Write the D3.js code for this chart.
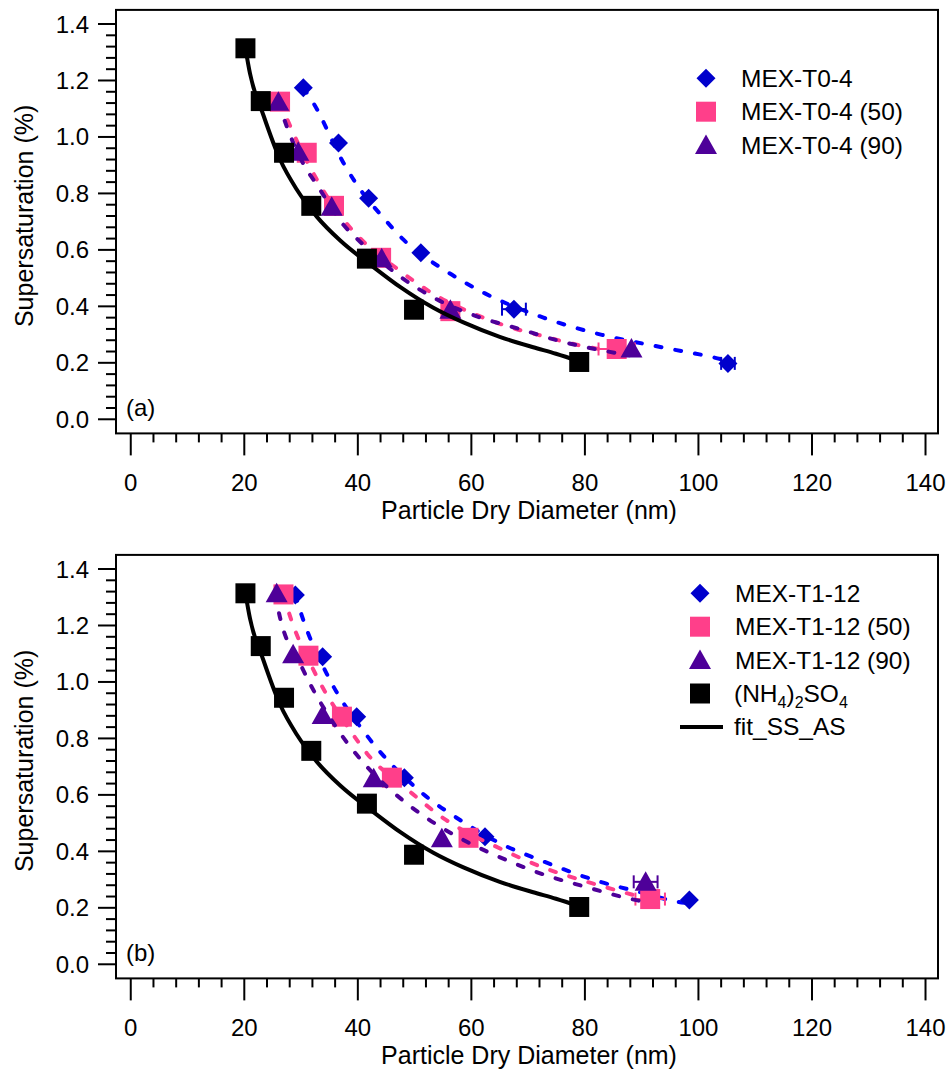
<!DOCTYPE html>
<html>
<head>
<meta charset="utf-8">
<script src="https://cdn.jsdelivr.net/npm/d3@7"></script>
<style>
  body { margin: 0; background: #fff; }
  text { font-family: "Liberation Sans", Arial, sans-serif; fill: #000; }
</style>
</head>
<body>
<svg id="chart" width="950" height="1069"></svg>
<script>
// ammonium sulfate calibration (same in both panels)
var D_AS  = [20.2, 22.9, 27.0, 31.8, 41.6, 49.9, 79.0];
var SS_AS = [1.314, 1.127, 0.944, 0.756, 0.569, 0.388, 0.203];

// fit_SS_AS curve
var fitAS_D  = [20.2, 21.0, 23.4, 26.3, 29.3, 32.8, 36.9, 42.7, 47.5, 53.3, 58.6, 65.0, 70.9, 74.9, 79.0];
var fitAS_SS = [1.314, 1.225, 1.075, 0.920, 0.812, 0.717, 0.633, 0.540, 0.468, 0.395, 0.343, 0.292, 0.255, 0.232, 0.205];

// panel (a) MEX-T0-4
var D_T04   = [30.4, 36.6, 41.9, 51.1, 67.5, 105.2];
var SS_T04  = [1.174, 0.979, 0.783, 0.590, 0.390, 0.198];
var err_T04 = [0, 0, 0, 0, 2.1, 1.2];
var fitT04_D  = [30.4, 32.2, 37.5, 39.5, 44.8, 48.0, 55.7, 62.4, 72.7, 83.0, 93.8, 104.1, 105.2];
var fitT04_SS = [1.174, 1.119, 0.907, 0.841, 0.707, 0.637, 0.523, 0.446, 0.360, 0.299, 0.254, 0.212, 0.206];

var D_T04_50   = [26.3, 31.0, 35.8, 44.1, 56.3, 85.6];
var SS_T04_50  = [1.125, 0.944, 0.756, 0.572, 0.383, 0.249];
var err_T04_50 = [0, 0, 0, 0, 0, 3.2];
var fitT04_50_D  = [26.3, 27.5, 32.5, 37.5, 40.4, 47.2, 53.9, 61.0, 68.0, 71.8, 78.8, 82.4, 85.6];
var fitT04_50_SS = [1.125, 1.066, 0.859, 0.706, 0.641, 0.529, 0.437, 0.369, 0.319, 0.299, 0.263, 0.249, 0.238];

var D_T04_90   = [26.0, 29.5, 35.4, 44.2, 56.3, 88.2];
var SS_T04_90  = [1.125, 0.948, 0.753, 0.570, 0.388, 0.251];
var err_T04_90 = [0, 0, 0, 0, 0, 0];
var fitT04_90_D  = [26.0, 27.5, 30.7, 32.7, 37.5, 40.4, 47.5, 54.2, 61.2, 68.6, 75.6, 82.7, 87.9];
var fitT04_90_SS = [1.125, 1.036, 0.894, 0.833, 0.688, 0.629, 0.505, 0.422, 0.363, 0.319, 0.277, 0.245, 0.227];

// panel (b) MEX-T1-12
var D_T112   = [29.0, 33.8, 39.8, 48.2, 62.4, 98.4];
var SS_T112  = [1.308, 1.089, 0.877, 0.661, 0.452, 0.228];
var err_T112 = [0, 0, 0, 0, 0, 0];
var fitT112_D  = [29.0, 30.1, 34.8, 41.3, 50.7, 58.0, 65.1, 72.1, 82.7, 89.4, 96.2, 98.2];
var fitT112_SS = [1.308, 1.237, 1.018, 0.818, 0.617, 0.511, 0.428, 0.369, 0.292, 0.257, 0.222, 0.216];

var D_T112_50   = [26.9, 31.3, 37.2, 46.0, 59.5, 91.5];
var SS_T112_50  = [1.310, 1.093, 0.877, 0.661, 0.448, 0.231];
var err_T112_50 = [0, 0, 0, 0, 0, 2.6];
var fitT112_50_D  = [26.9, 27.8, 32.5, 38.6, 41.6, 49.2, 55.1, 65.6, 73.0, 76.5, 83.3, 90.6];
var fitT112_50_SS = [1.310, 1.249, 1.030, 0.830, 0.747, 0.611, 0.517, 0.405, 0.340, 0.316, 0.275, 0.234];

var D_T112_90   = [25.7, 28.6, 33.8, 42.8, 54.8, 90.7];
var SS_T112_90  = [1.314, 1.098, 0.883, 0.659, 0.446, 0.292];
var err_T112_90 = [0, 0, 0, 0, 0, 2.1];
var fitT112_90_D  = [25.7, 26.0, 30.1, 36.3, 41.6, 48.6, 52.2, 59.2, 66.2, 73.0, 80.0, 87.1, 91.5];
var fitT112_90_SS = [1.314, 1.255, 1.054, 0.836, 0.700, 0.570, 0.517, 0.434, 0.369, 0.316, 0.275, 0.236, 0.217];

// axis ticks
var xMajor = [0, 20, 40, 60, 80, 100, 120, 140];
var yMajor = [0.0, 0.2, 0.4, 0.6, 0.8, 1.0, 1.2, 1.4];

var BLUE = "#0000cc", BLUE_LINE = "#0000ff";
var PINK = "#ff3f8a", PURPLE = "#4e0099";

var svg = d3.select("#chart");

function zip(xs, ys, es) {
  return xs.map(function(x, i){ return {x: x, y: ys[i], e: es ? es[i] : 0}; });
}

// marker shapes centred on 0,0
function markerPath(kind) {
  if (kind === "diamond") return "M0,-9.5L9.5,0L0,9.5L-9.5,0Z";
  if (kind === "square") return "M-10,-10H10V10H-10Z";
  return "M0,-10.5L11,9H-11Z"; // triangle
}

function drawPanel(top, label, series, legendX, legendY, showAS) {
  var x = d3.scaleLinear().domain([-2.6, 142.2]).range([116, 938]);
  var y = d3.scaleLinear().domain([-0.05, 1.45]).range([top + 423.5, top]);
  var g = svg.append("g");

  // frame
  g.append("rect")
    .attr("x", x.range()[0]).attr("y", top)
    .attr("width", x.range()[1] - x.range()[0]).attr("height", 423.5)
    .attr("fill", "none").attr("stroke", "#000").attr("stroke-width", 2);

  // y ticks (minor every 0.04)
  var yMinor = d3.range(0, 36).map(function(i){ return i * 0.04; }).filter(function(v){ return Math.abs(v*5 - Math.round(v*5)) > 1e-6; });
  g.selectAll(".ymin").data(yMinor).enter().append("line")
    .attr("x1", 106).attr("x2", 116).attr("y1", function(d){ return y(d); }).attr("y2", function(d){ return y(d); })
    .attr("stroke", "#000").attr("stroke-width", 2);
  g.selectAll(".ymaj").data(yMajor).enter().append("line")
    .attr("x1", 98).attr("x2", 116).attr("y1", function(d){ return y(d); }).attr("y2", function(d){ return y(d); })
    .attr("stroke", "#000").attr("stroke-width", 2);
  g.selectAll(".ylab").data(yMajor).enter().append("text")
    .attr("x", 89).attr("y", function(d){ return y(d) + 8.5; })
    .attr("text-anchor", "end").style("font-size", "24px")
    .text(function(d){ return d.toFixed(1); });

  // x ticks (minor every 4)
  var bottom = top + 423.5;
  var xMinor = d3.range(0, 36).map(function(i){ return i * 4; }).filter(function(v){ return v % 20 !== 0; });
  g.selectAll(".xmin").data(xMinor).enter().append("line")
    .attr("x1", function(d){ return x(d); }).attr("x2", function(d){ return x(d); })
    .attr("y1", bottom).attr("y2", bottom + 9)
    .attr("stroke", "#000").attr("stroke-width", 2);
  g.selectAll(".xmaj").data(xMajor).enter().append("line")
    .attr("x1", function(d){ return x(d); }).attr("x2", function(d){ return x(d); })
    .attr("y1", bottom).attr("y2", bottom + 22)
    .attr("stroke", "#000").attr("stroke-width", 2);
  g.selectAll(".xlab").data(xMajor).enter().append("text")
    .attr("x", function(d){ return x(d); }).attr("y", bottom + 58)
    .attr("text-anchor", "middle").style("font-size", "24px")
    .text(function(d){ return d; });

  // axis titles
  g.append("text").attr("x", 529).attr("y", bottom + 86)
    .attr("text-anchor", "middle").style("font-size", "25px")
    .text("Particle Dry Diameter (nm)");
  g.append("text")
    .attr("transform", "translate(33," + (top + 206) + ") rotate(-90)")
    .attr("text-anchor", "middle").style("font-size", "25px")
    .text("Supersaturation (%)");

  g.append("text").attr("x", 126).attr("y", top + 406).style("font-size", "24px").text(label);

  var line = d3.line().x(function(d){ return x(d.x); }).y(function(d){ return y(d.y); }).curve(d3.curveMonotoneX);

  // series: dashed fit, error bars, markers
  series.forEach(function(s) {
    g.append("path").datum(zip(s.fitD, s.fitSS)).attr("d", line)
      .attr("fill", "none").attr("stroke", s.lineColor).attr("stroke-width", 4)
      .attr("stroke-dasharray", "6,14").attr("stroke-linecap", "round");
    var pts = zip(s.D, s.SS, s.err);
    var eb = g.selectAll(null).data(pts.filter(function(d){ return d.e > 0; })).enter().append("g")
      .attr("stroke", s.color).attr("stroke-width", 2);
    eb.append("line").attr("x1", function(d){ return x(d.x - d.e); }).attr("x2", function(d){ return x(d.x + d.e); })
      .attr("y1", function(d){ return y(d.y); }).attr("y2", function(d){ return y(d.y); });
    eb.append("line").attr("x1", function(d){ return x(d.x - d.e); }).attr("x2", function(d){ return x(d.x - d.e); })
      .attr("y1", function(d){ return y(d.y) - 6.5; }).attr("y2", function(d){ return y(d.y) + 6.5; });
    eb.append("line").attr("x1", function(d){ return x(d.x + d.e); }).attr("x2", function(d){ return x(d.x + d.e); })
      .attr("y1", function(d){ return y(d.y) - 6.5; }).attr("y2", function(d){ return y(d.y) + 6.5; });
    g.selectAll(null).data(pts).enter().append("path")
      .attr("d", markerPath(s.shape))
      .attr("transform", function(d){ return "translate(" + x(d.x) + "," + y(d.y) + ")"; })
      .attr("fill", s.color);
  });

  // ammonium sulfate markers and fit
  g.append("path").datum(zip(fitAS_D, fitAS_SS)).attr("d", line)
    .attr("fill", "none").attr("stroke", "#000").attr("stroke-width", 4);
  g.selectAll(null).data(zip(D_AS, SS_AS)).enter().append("path")
    .attr("d", markerPath("square"))
    .attr("transform", function(d){ return "translate(" + x(d.x) + "," + y(d.y) + ")"; })
    .attr("fill", "#000");

  // legend
  var rowH = 33.4;
  series.forEach(function(s, i) {
    var ly = legendY + i * rowH;
    g.append("path").attr("d", markerPath(s.shape))
      .attr("transform", "translate(" + legendX + "," + ly + ")").attr("fill", s.color);
    g.append("text").attr("x", legendX + 35).attr("y", ly + 8.5).style("font-size", "24.5px").text(s.name);
  });
  if (showAS) {
    var ly = legendY + 3 * rowH;
    g.append("path").attr("d", markerPath("square"))
      .attr("transform", "translate(" + legendX + "," + ly + ")").attr("fill", "#000");
    var t = g.append("text").attr("x", legendX + 34).attr("y", ly + 8.5).style("font-size", "24.5px");
    t.append("tspan").text("(NH");
    t.append("tspan").attr("dy", 6).style("font-size", "16px").text("4");
    t.append("tspan").attr("dy", -6).text(")");
    t.append("tspan").attr("dy", 6).style("font-size", "16px").text("2");
    t.append("tspan").attr("dy", -6).text("SO");
    t.append("tspan").attr("dy", 6).style("font-size", "16px").text("4");
    var ly2 = legendY + 4 * rowH;
    g.append("line").attr("x1", legendX - 20).attr("x2", legendX + 23)
      .attr("y1", ly2).attr("y2", ly2).attr("stroke", "#000").attr("stroke-width", 4);
    g.append("text").attr("x", legendX + 34).attr("y", ly2 + 8.5).style("font-size", "24.5px").text("fit_SS_AS");
  }
}

drawPanel(9.9, "(a)", [
  {name: "MEX-T0-4", shape: "diamond", color: BLUE, lineColor: BLUE_LINE, D: D_T04, SS: SS_T04, err: err_T04, fitD: fitT04_D, fitSS: fitT04_SS},
  {name: "MEX-T0-4 (50)", shape: "square", color: PINK, lineColor: PINK, D: D_T04_50, SS: SS_T04_50, err: err_T04_50, fitD: fitT04_50_D, fitSS: fitT04_50_SS},
  {name: "MEX-T0-4 (90)", shape: "triangle", color: PURPLE, lineColor: PURPLE, D: D_T04_90, SS: SS_T04_90, err: err_T04_90, fitD: fitT04_90_D, fitSS: fitT04_90_SS}
], 706, 78.3, false);

drawPanel(554.9, "(b)", [
  {name: "MEX-T1-12", shape: "diamond", color: BLUE, lineColor: BLUE_LINE, D: D_T112, SS: SS_T112, err: err_T112, fitD: fitT112_D, fitSS: fitT112_SS},
  {name: "MEX-T1-12 (50)", shape: "square", color: PINK, lineColor: PINK, D: D_T112_50, SS: SS_T112_50, err: err_T112_50, fitD: fitT112_50_D, fitSS: fitT112_50_SS},
  {name: "MEX-T1-12 (90)", shape: "triangle", color: PURPLE, lineColor: PURPLE, D: D_T112_90, SS: SS_T112_90, err: err_T112_90, fitD: fitT112_90_D, fitSS: fitT112_90_SS}
], 700, 593.3, true);
</script>
</body>
</html>
